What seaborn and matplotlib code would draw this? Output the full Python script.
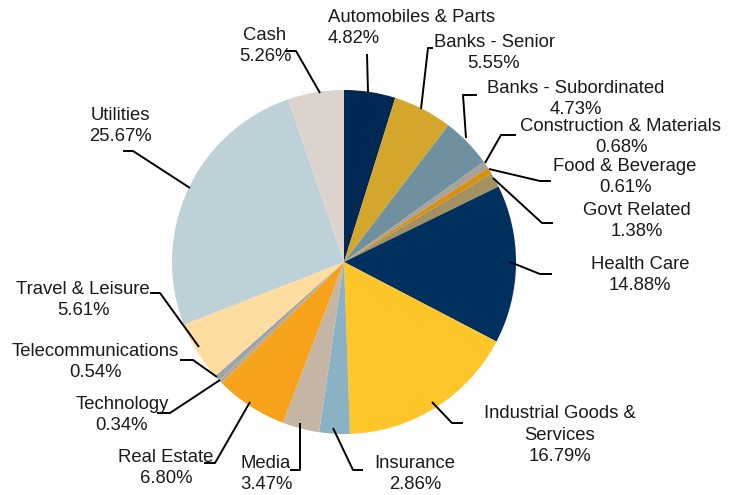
import matplotlib
matplotlib.use('Agg')
import matplotlib.pyplot as plt
import seaborn as sns

sns.set_theme(style='white')
plt.rcParams['font.family'] = ['Liberation Sans', 'DejaVu Sans']

# === Data ===
sectors = ['Automobiles & Parts', 'Banks - Senior', 'Banks - Subordinated',
           'Construction & Materials', 'Food & Beverage', 'Govt Related',
           'Health Care', 'Industrial Goods &\nServices', 'Insurance', 'Media',
           'Real Estate', 'Technology', 'Telecommunications', 'Travel & Leisure',
           'Utilities', 'Cash']
weights = [4.82, 5.55, 4.73, 0.68, 0.61, 1.38, 14.88, 16.79, 2.86, 3.47,
           6.80, 0.34, 0.54, 5.61, 25.67, 5.26]
colors = ['#002855', '#D4A72C', '#6F909E', '#A8A29E', '#D98E0E', '#A39162',
          '#00305E', '#FFC629', '#8BB1C4', '#C4B5A5', '#F7A21B', '#B7A98A',
          '#9EA3A8', '#FFDDA0', '#BFD1D8', '#DCD3CC']

# label layout in pixel coords (x, y from top), with horizontal alignment
label_pos = [(328, 28), (494, 53), (576, 99), (621, 137), (625, 177),
             (637, 221), (640, 275), (560, 435), (415, 474), (266, 474),
             (166, 468), (122, 415), (95, 362), (83, 300), (120, 126), (265, 46)]
label_ha = ['left'] + ['center'] * 15
# leader lines: start on pie edge -> elbow -> end
leaders = [
    [(368, 92), (367, 54)],
    [(421, 109), (428, 48), (433, 48)],
    [(466, 138), (463, 95), (477, 95)],
    [(485, 163), (501, 135), (516, 135)],
    [(489, 169), (540, 181), (551, 181)],
    [(493, 178), (542, 223), (553, 223)],
    [(510, 262), (540, 274), (552, 274)],
    [(432, 402), (452, 423), (463, 423)],
    [(333, 428), (353, 470), (363, 470)],
    [(300, 423), (300, 470), (290, 470)],
    [(250, 402), (215, 463), (204, 463)],
    [(220, 380), (170, 413), (157, 413)],
    [(217, 377), (193, 360), (180, 360)],
    [(199, 347), (160, 293), (150, 293)],
    [(190, 188), (133, 151), (123, 151)],
    [(320, 93), (296, 51), (285, 51)],
]

W, H = 740, 495
fig = plt.figure(figsize=(7.4, 4.95), dpi=100)
ax = fig.add_axes([0, 0, 1, 1])
ax.pie(weights, colors=colors, startangle=90, counterclock=False,
       center=(344, H - 262), radius=172, frame=True,
       wedgeprops=dict(linewidth=0))
ax.set_xlim(0, W)
ax.set_ylim(0, H)
ax.set_aspect('equal')
ax.axis('off')

for name, w, (tx, ty), ha, pts in zip(sectors, weights, label_pos, label_ha, leaders):
    ax.text(tx, H - ty, f'{name}\n{w:.2f}%', ha=ha, va='center', multialignment=ha,
            fontsize=13.3, color='#1a1a1a', linespacing=1.32)
    xs = [p[0] for p in pts]
    ys = [H - p[1] for p in pts]
    ax.plot(xs, ys, color='black', linewidth=1.4, solid_capstyle='butt')

fig.savefig('out.png', dpi=100)
